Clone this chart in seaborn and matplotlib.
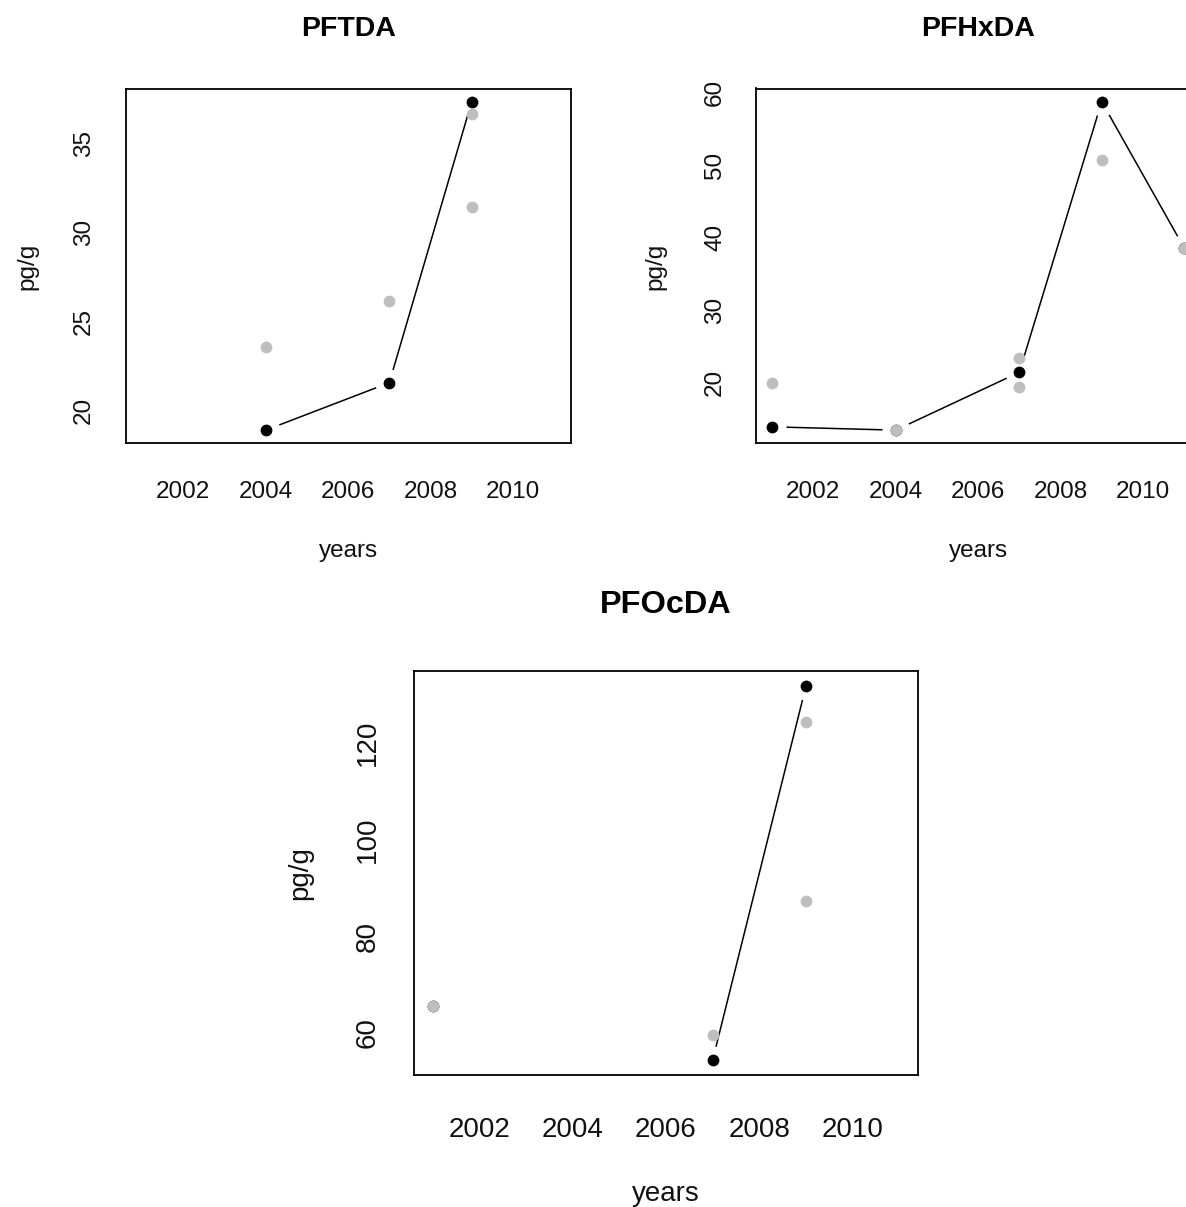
import numpy as np
import pandas as pd
import matplotlib
matplotlib.use("Agg")
import matplotlib.pyplot as plt
import seaborn as sns

# ---- data -------------------------------------------------------------
years = [2001, 2004, 2007, 2009, 2011]

pftda_median = [np.nan, 18.87, 21.54, 37.37, np.nan]
pftda_sample_years = [2004, 2007, 2009, 2009]
pftda_sample_values = [23.54, 26.17, 36.69, 31.41]

pfhxda_median = [13.92, 13.46, 21.44, 58.76, 38.60]
pfhxda_sample_years = [2001, 2004, 2007, 2007, 2009, 2011]
pfhxda_sample_values = [20.00, 13.46, 23.46, 19.45, 50.73, 38.60]

pfocda_median = [65.50, np.nan, 54.33, 131.80, np.nan]
pfocda_sample_years = [2001, 2007, 2009, 2009]
pfocda_sample_values = [65.50, 59.50, 124.30, 87.30]

x_ticks = [2002, 2004, 2006, 2008, 2010]
pftda_yticks = [20, 25, 30, 35]
pfhxda_yticks = [20, 30, 40, 50, 60]
pfocda_yticks = [60, 80, 100, 120]

# ---- figure -----------------------------------------------------------
W, H = 1186, 1207
DPI = 100
sns.set_theme(style="white")
plt.rcParams["font.family"] = ["Liberation Sans", "DejaVu Sans"]

fig = plt.figure(figsize=(W / DPI, H / DPI), dpi=DPI)
fig.patch.set_facecolor("white")


def rect(left, top, right, bottom):
    return [left / W, 1 - bottom / H, (right - left) / W, (bottom - top) / H]


GRAY = "#bebebe"


def panel(box, title, median, s_years, s_values, yticks, scale,
          title_base, xlabel_base, ylabel_x, tick_len, xpad, ypad):
    ax = fig.add_axes(rect(*box))
    ax.set_facecolor("white")

    med = pd.DataFrame({"year": years, "value": median})
    # runs of consecutive non-missing values (missing values break the line)
    med["run"] = med["value"].isna().cumsum()
    valid = med.dropna()
    run_sizes = valid.groupby("run")["value"].transform("size")
    lines = valid[run_sizes > 1]
    if len(lines):
        sns.lineplot(data=lines, x="year", y="value", units="run",
                     estimator=None, sort=False, color="black",
                     linewidth=1.1, ax=ax, zorder=2, legend=False)
    # white halos leave a gap between line and each point
    halo = 14 * 72 / DPI * 2
    sns.scatterplot(data=valid, x="year", y="value", s=halo ** 2,
                    color="white", linewidth=0, ax=ax, zorder=2.1,
                    legend=False)
    sns.scatterplot(data=valid, x="year", y="value", s=72,
                    color="black", linewidth=0, ax=ax, zorder=2.2,
                    legend=False)
    samples = pd.DataFrame({"year": s_years, "value": s_values})
    sns.scatterplot(data=samples, x="year", y="value", s=72,
                    color=GRAY, linewidth=0, ax=ax, zorder=2.3,
                    legend=False)

    allv = np.concatenate([valid["value"].values, samples["value"].values])
    lo, hi = allv.min(), allv.max()
    ext = 0.04 * (hi - lo)
    ax.set_ylim(lo - ext, hi + ext)
    ax.set_xlim(2000.6, 2011.4)
    ax.set_xticks(x_ticks)
    ax.set_yticks(yticks)
    ax.set_xticklabels([str(t) for t in x_ticks])
    ax.set_yticklabels([str(t) for t in yticks])
    ax.set_xlabel("")
    ax.set_ylabel("")

    fs = 17.5 * scale
    ax.tick_params(axis="both", direction="out", length=tick_len,
                   width=1.2, color="black", labelsize=fs,
                   labelcolor="#111111")
    ax.tick_params(axis="x", pad=xpad)
    ax.tick_params(axis="y", pad=ypad)
    plt.setp(ax.get_xticklabels(), va="center")
    plt.setp(ax.get_yticklabels(), rotation=90, va="center", ha="center")
    for sp in ax.spines.values():
        sp.set_color("black")
        sp.set_linewidth(1.3)
        sp.set_zorder(3)

    cx = (box[0] + box[2]) / 2
    cy = (box[1] + box[3]) / 2
    fig.text(cx / W, 1 - title_base / H, title, ha="center", va="baseline",
             fontsize=20.5 * scale, fontweight="bold", color="black")
    fig.text(cx / W, 1 - xlabel_base / H, "years", ha="center",
             va="baseline", fontsize=fs, color="#111111")
    fig.text(ylabel_x / W, 1 - cy / H, "pg/g", ha="center", va="center",
             rotation=90, fontsize=fs, color="#111111")
    return ax


panel((125.6, 88.5, 570.6, 443.3), "PFTDA", pftda_median,
      pftda_sample_years, pftda_sample_values, pftda_yticks, 1.0,
      36, 556.5, 27, 10.8, 24.3, 19.2)
panel((755.6, 88.5, 1200.6, 443.3), "PFHxDA", pfhxda_median,
      pfhxda_sample_years, pfhxda_sample_values, pfhxda_yticks, 1.0,
      36, 556.5, 655, 10.8, 24.3, 18.4)
panel((414, 671, 918, 1075), "PFOcDA", pfocda_median,
      pfocda_sample_years, pfocda_sample_values, pfocda_yticks, 1.14,
      613, 1201, 300, 12.0, 27.4, 21.3)

fig.savefig("out.png", dpi=DPI, facecolor="white")
